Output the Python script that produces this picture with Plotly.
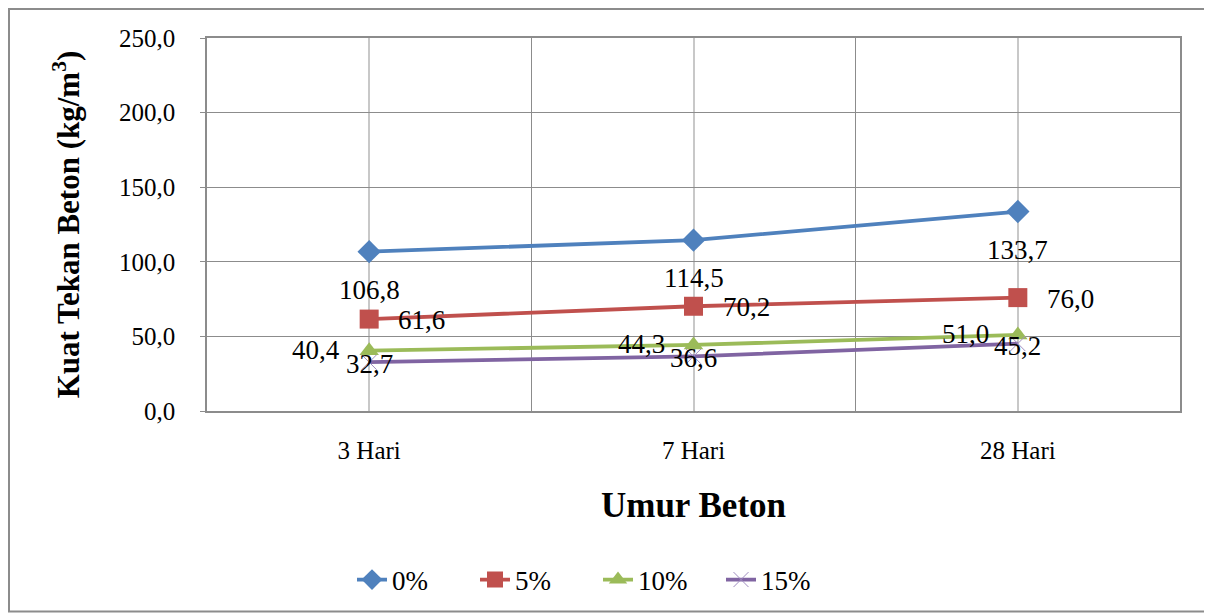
import plotly.graph_objects as go

categories = ["3 Hari", "7 Hari", "28 Hari"]
series_names = ["0%", "5%", "10%", "15%"]
v0 = [106.8, 114.5, 133.7]
v5 = [61.6, 70.2, 76.0]
v10 = [40.4, 44.3, 51.0]
v15 = [32.7, 36.6, 45.2]
y_ticks = [0, 50, 100, 150, 200, 250]

xpos = list(range(len(categories)))
font_family = "Liberation Serif, Times New Roman, serif"

W, H = 1200, 607
OFF = 8  # page offset
L = 207 - OFF
T = 38 - OFF
PW, PH = 973, 374
R = W - L - PW
B = H - T - PH


def fmt(v):
    return f"{v:.1f}".replace(".", ",")


fig = go.Figure()
specs = [
    (series_names[0], v0, "#4F81BD", dict(symbol="diamond", size=18, color="#4F81BD"),
     dict(xanchor="center", yanchor="middle", xshift=0, yshift=-38)),
    (series_names[1], v5, "#C0504D", dict(symbol="square", size=19, color="#C0504D"),
     dict(xanchor="left", yanchor="middle", xshift=27, yshift=-1)),
    (series_names[2], v10, "#9BBB59", dict(symbol="triangle-up", size=17, color="#9BBB59"),
     dict(xanchor="right", yanchor="middle", xshift=-27, yshift=1)),
    (series_names[3], v15, "#8064A2", dict(symbol="x-thin", size=15, color="#8064A2", line=dict(width=1, color="#9F8CC0")),
     dict(xanchor="center", yanchor="middle", xshift=0, yshift=-2)),
]
annotations = []
for name, vals, col, mk, lab in specs:
    fig.add_trace(go.Scatter(
        x=xpos, y=vals, name=name, mode="lines+markers",
        line=dict(color=col, width=3.8), marker=mk,
        cliponaxis=False,
    ))
    for xi, v in zip(xpos, vals):
        annotations.append(dict(
            x=xi, y=v, xref="x", yref="y", text=fmt(v), showarrow=False,
            font=dict(family=font_family, size=27, color="black"), **lab))

fig.update_layout(
    width=W, height=H,
    margin=dict(l=L, r=R, t=T, b=B),
    paper_bgcolor="white", plot_bgcolor="white",
    separators=",.",
    font=dict(family=font_family, color="black"),
    showlegend=True,
    legend=dict(orientation="h", x=(352 - 207) / PW, xanchor="left", y=(412 - 580) / PH, yanchor="middle",
                font=dict(family=font_family, size=27), entrywidth=78, entrywidthmode="pixels"),
    xaxis=dict(
        range=[-0.5, 2.5], tickvals=xpos, ticktext=categories,
        tickfont=dict(family=font_family, size=25),
        ticklabelstandoff=16,
        showgrid=True, gridcolor="#C8C8C8", gridwidth=1.5,
        minor=dict(tickvals=[-0.5, 0.5, 1.5, 2.5], showgrid=True, gridcolor="#8C8C8C", gridwidth=1.2),
        showline=True, linecolor="#8C8C8C", linewidth=1.5, mirror=True,
        ticks="", zeroline=False,
        title=dict(text="<b>Umur Beton</b>", font=dict(family=font_family, size=35), standoff=30),
    ),
    yaxis=dict(
        range=[0, 250], tickvals=y_ticks, tickformat=".1f",
        tickfont=dict(family=font_family, size=25),
        ticklabelstandoff=20,
        showgrid=True, gridcolor="#8C8C8C", gridwidth=1.2,
        showline=True, linecolor="#8C8C8C", linewidth=1.5, mirror=True,
        ticks="outside", ticklen=5, tickcolor="#8C8C8C",
        zeroline=False,
        title=dict(text="<b>Kuat Tekan Beton (kg/m<sup>3</sup>)</b>", font=dict(family=font_family, size=31), standoff=30),
    ),
    annotations=annotations,
    shapes=[dict(type="rect", xref="paper", yref="paper",
                 x0=-(L - 1) / PW, x1=(W - L - 2) / PW,
                 y0=-(B - 2) / PH, y1=1 + (T - 1) / PH,
                 line=dict(color="#8C8C8C", width=2), fillcolor="rgba(0,0,0,0)", layer="below")],
)

fig.write_html("out.html")
